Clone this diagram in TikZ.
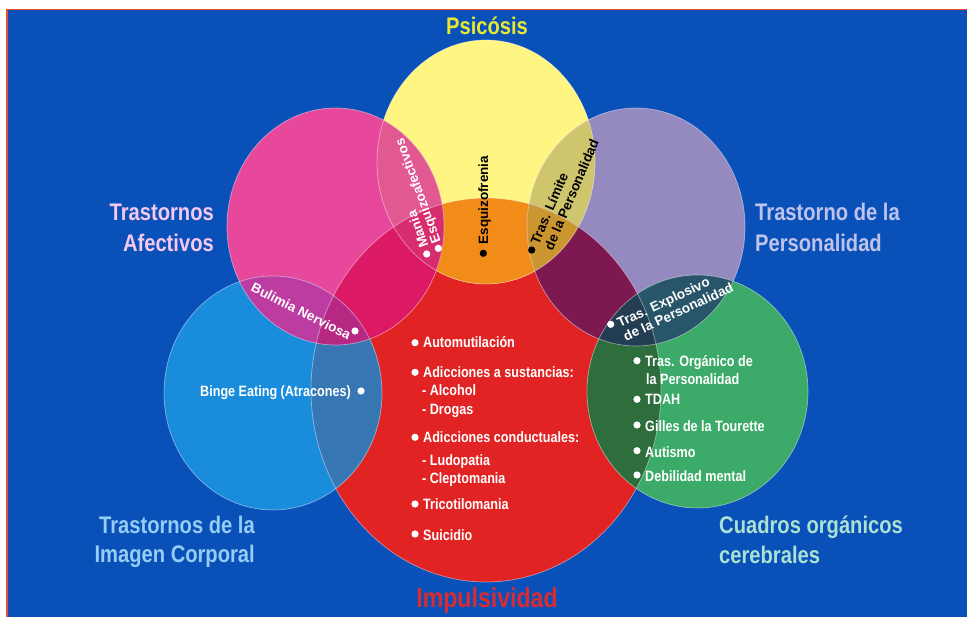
\documentclass[tikz,border=0pt]{standalone}
\usepackage{fontspec}
\setmainfont{Liberation Sans}[FakeStretch=0.84]
\newfontfamily\rotfont{Liberation Sans}
\definecolor{bgblue}{RGB}{10,80,185}
\definecolor{bordor}{RGB}{235,80,40}
\definecolor{cyel}{RGB}{255,245,130}
\definecolor{cpnk}{RGB}{232,72,155}
\definecolor{cpur}{RGB}{148,138,192}
\definecolor{cblu}{RGB}{25,140,220}
\definecolor{cgrn}{RGB}{60,170,105}
\definecolor{cred}{RGB}{225,35,35}
\definecolor{yp}{RGB}{226,88,145}
\definecolor{yr}{RGB}{242,140,25}
\definecolor{ypu}{RGB}{207,197,108}
\definecolor{pr}{RGB}{220,25,100}
\definecolor{pb}{RGB}{188,60,162}
\definecolor{pur}{RGB}{125,25,80}
\definecolor{pug}{RGB}{40,85,105}
\definecolor{br}{RGB}{55,120,180}
\definecolor{gr}{RGB}{45,110,60}
\definecolor{ypr}{RGB}{215,45,110}
\definecolor{ypur}{RGB}{203,150,48}
\definecolor{pbr}{RGB}{182,40,130}
\definecolor{pugr}{RGB}{35,62,82}
\definecolor{lpsi}{RGB}{232,232,50}
\definecolor{lafe}{RGB}{245,200,240}
\definecolor{lper}{RGB}{190,195,235}
\definecolor{limg}{RGB}{150,205,245}
\definecolor{lcua}{RGB}{170,225,210}
\definecolor{limp}{RGB}{215,45,50}
\newcommand\cYel{(486,162) ellipse [x radius=109pt, y radius=122pt]}
\newcommand\cPnk{(335.5,226.5) ellipse [x radius=108.5pt, y radius=118.5pt]}
\newcommand\cPur{(636,227) ellipse [x radius=109pt, y radius=119pt]}
\newcommand\cBlu{(273,393) ellipse [x radius=109pt, y radius=117pt]}
\newcommand\cGrn{(697.5,391.5) ellipse [x radius=110.5pt, y radius=116.5pt]}
\newcommand\cRed{(486,390) ellipse [x radius=175pt, y radius=192pt]}
\tikzset{
  big/.style={font=\bfseries\fontsize{24}{29}\selectfont, inner sep=0pt},
  lst/.style={font=\bfseries\fontsize{15}{18}\selectfont, text=white, inner sep=0pt, anchor=base west},
  rot/.style={font=\rotfont\bfseries\fontsize{13.5}{15}\selectfont, inner sep=0pt, anchor=base west, align=left},
  outl/.style={draw=white, draw opacity=0.45, line width=0.7pt},
}
\begin{document}
\begin{tikzpicture}[x=1pt,y=-1pt]
\useasboundingbox (0,0) rectangle (967,617);
\fill[white] (0,0) rectangle (967,617);
\fill[bgblue] (6,9) rectangle (967,617);
\draw[bordor, line width=1.5pt] (6.75,617) -- (6.75,9.75) -- (967,9.75);
% single circles
\fill[cred] \cRed;
\fill[cyel] \cYel;
\fill[cpnk] \cPnk;
\fill[cpur] \cPur;
\fill[cblu] \cBlu;
\fill[cgrn] \cGrn;
% pairwise overlaps
\begin{scope}\clip \cYel; \fill[yr] \cRed; \end{scope}
\begin{scope}\clip \cYel; \fill[yp] \cPnk; \end{scope}
\begin{scope}\clip \cYel; \fill[ypu] \cPur; \end{scope}
\begin{scope}\clip \cPnk; \fill[pr] \cRed; \end{scope}
\begin{scope}\clip \cPnk; \fill[pb] \cBlu; \end{scope}
\begin{scope}\clip \cPur; \fill[pur] \cRed; \end{scope}
\begin{scope}\clip \cPur; \fill[pug] \cGrn; \end{scope}
\begin{scope}\clip \cBlu; \fill[br] \cRed; \end{scope}
\begin{scope}\clip \cGrn; \fill[gr] \cRed; \end{scope}
% triple overlaps
\begin{scope}\clip \cYel; \clip \cPnk; \fill[ypr] \cRed; \end{scope}
\begin{scope}\clip \cYel; \clip \cPur; \fill[ypur] \cRed; \end{scope}
\begin{scope}\clip \cPnk; \clip \cBlu; \fill[pbr] \cRed; \end{scope}
\begin{scope}\clip \cPur; \clip \cGrn; \fill[pugr] \cRed; \end{scope}
% outlines
\draw[outl] \cRed; \draw[outl] \cYel; \draw[outl] \cPnk;
\draw[outl] \cPur; \draw[outl] \cBlu; \draw[outl] \cGrn;
% group labels
\node[big, text=lpsi, anchor=base] (psi) at (487,35) {Psicósis};
\node[big, text=lafe, anchor=base east] (afe1) at (214,221) {Trastornos};
\node[big, text=lafe, anchor=base east] (afe2) at (214,252) {Afectivos};
\node[big, text=lper, anchor=base west] (per1) at (755,221) {Trastorno de la};
\node[big, text=lper, anchor=base west] (per2) at (755,252) {Personalidad};
\node[big, text=limg, anchor=base east] (img1) at (255,533) {Trastornos de la};
\node[big, text=limg, anchor=base east] (img2) at (255,562) {Imagen Corporal};
\node[big, text=lcua, anchor=base west] (cua1) at (719,533) {Cuadros orgánicos};
\node[big, text=lcua, anchor=base west] (cua2) at (719,563) {cerebrales};
\node[big, text=limp, anchor=base, font=\bfseries\fontsize{27.5}{32}\selectfont] (imp) at (487,607) {Impulsividad};
% rotated labels (base anchor = baseline of the last line)
\fill[white] (426.7,254) circle (3.6pt);
\fill[white] (438.3,248.3) circle (3.6pt);
\node[rot, text=white, rotate=110, font=\rotfont\bfseries\fontsize{13.5}{13}\selectfont] (mania) at (441,241.5) {Mania\\Esquizoafectivos};
\fill[black] (483.3,253.3) circle (3.6pt);
\node[rot, text=black, rotate=90] (esq) at (488,244.5) {Esquizofrenia};
\fill[black] (531.7,250) circle (3.6pt);
\node[rot, text=black, rotate=67] (lim) at (552.5,251.5) {Tras. Límite\\de la Personalidad};
\fill[white] (355,331) circle (3.6pt);
\node[rot, text=white, rotate=-27] (bul) at (250,290.5) {Bulimia Nerviosa};
\fill[white] (610.7,324.3) circle (3.6pt);
\node[rot, text=white, rotate=25] (exp) at (626,341.5) {Tras. Explosivo\\de la Personalidad};
% binge
\node[lst] (binge) at (200,397) {Binge Eating (Atracones)};
\fill[white] (361,391) circle (3.6pt);
% red list
\foreach \yy in {342.7,372.3,437.3,504,534} \fill[white] (415,\yy) circle (3.6pt);
\node[lst] (r1) at (423,348) {Automutilación};
\node[lst] (r2) at (423,378) {Adicciones a sustancias:};
\node[lst] (r3) at (422,396) {- Alcohol};
\node[lst] (r4) at (422,415) {- Drogas};
\node[lst] (r5) at (423,443) {Adicciones conductuales:};
\node[lst] (r6) at (422,466) {- Ludopatia};
\node[lst] (r7) at (422,484) {- Cleptomania};
\node[lst] (r8) at (423,510) {Tricotilomania};
\node[lst] (r9) at (423,540) {Suicidio};
% green list
\foreach \yy in {360.7,399.3,425,450.7,475} \fill[white] (637,\yy) circle (3.6pt);
\node[lst] (g1) at (645,367) {Tras. Orgánico de};
\node[lst] (g2) at (646,385) {la Personalidad};
\node[lst] (g3) at (645,405) {TDAH};
\node[lst] (g4) at (645,432) {Gilles de la Tourette};
\node[lst] (g5) at (645,457) {Autismo};
\node[lst] (g6) at (645,482) {Debilidad mental};
\end{tikzpicture}
\end{document}
